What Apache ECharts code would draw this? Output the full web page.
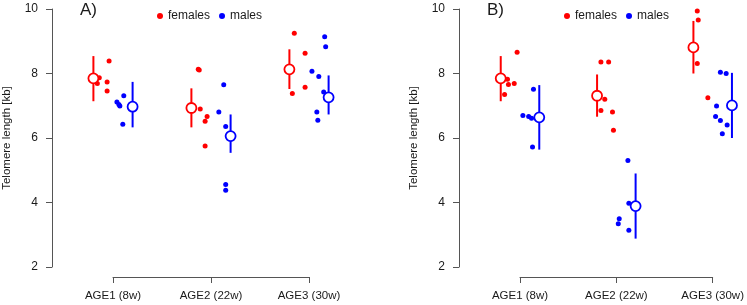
<!DOCTYPE html>
<html>
<head>
<meta charset="utf-8">
<script src="https://cdn.jsdelivr.net/npm/echarts@6/dist/echarts.min.js"></script>
<style>
  html, body { margin: 0; padding: 0; background: #fff; }
  #chart { width: 747px; height: 305px; }
</style>
</head>
<body>
<div id="chart"></div>
<script>
// 年龄分组与刻度
var ages = ['AGE1 (8w)', 'AGE2 (22w)', 'AGE3 (30w)'];
var yTicks = [2, 4, 6, 8, 10];

// 面板 A: 均值与误差范围
var aFemMean = [7.85, 6.93, 8.13];
var aFemLow  = [7.14, 6.33, 7.52];
var aFemHigh = [8.54, 7.54, 8.75];
var aMalMean = [6.97, 6.06, 7.26];
var aMalLow  = [6.33, 5.54, 6.73];
var aMalHigh = [7.74, 6.73, 7.94];
// 面板 A: 个体数据点 (值与水平抖动)
var aFemPts = [[8.39, 7.87, 7.69, 7.74, 7.46], [8.13, 8.11, 6.90, 6.67, 6.52, 5.75], [9.25, 8.63, 7.57, 7.38]];
var aFemJit = [[0.16, 0.06, 0.04, 0.14, 0.14], [0.07, 0.08, 0.09, 0.16, 0.14, 0.14], [0.05, 0.16, 0.16, 0.03]];
var aMalPts = [[7.12, 7.04, 6.99, 7.31, 6.43], [7.65, 6.81, 6.36, 4.56, 4.38], [9.14, 8.83, 8.07, 7.91, 7.43, 6.81, 6.55]];
var aMalJit = [[-0.16, -0.14, -0.13, -0.09, -0.10], [-0.07, -0.12, -0.05, -0.05, -0.05], [-0.04, -0.03, -0.17, -0.10, -0.05, -0.12, -0.11]];

// 面板 B
var bFemMean = [7.85, 7.31, 8.81];
var bFemLow  = [7.14, 6.66, 8.00];
var bFemHigh = [8.54, 7.97, 9.63];
var bMalMean = [6.64, 3.89, 7.01];
var bMalLow  = [5.64, 2.88, 6.00];
var bMalHigh = [7.64, 4.90, 8.02];
var bFemPts = [[8.66, 7.82, 7.66, 7.69, 7.35], [8.36, 8.36, 7.20, 6.85, 6.81, 6.24], [9.94, 9.66, 8.31, 7.25]];
var bFemJit = [[0.17, 0.07, 0.08, 0.14, 0.04], [0.04, 0.12, 0.08, 0.04, 0.16, 0.17], [0.04, 0.05, 0.04, 0.15]];
var bMalPts = [[7.51, 6.70, 6.67, 6.61, 5.72], [5.30, 3.98, 3.50, 3.34, 3.14], [8.04, 8.00, 6.99, 6.67, 6.54, 6.40, 6.13]];
var bMalJit = [[-0.06, -0.17, -0.11, -0.08, -0.07], [-0.08, -0.07, -0.17, -0.18, -0.07], [-0.12, -0.06, -0.16, -0.17, -0.12, -0.05, -0.10]];

var RED = '#ff0000', BLUE = '#0000ff';
var FONT = 'Liberation Sans, Arial, sans-serif';
var SHIFT = 0.2; // 雌雄分组左右偏移

var chart = echarts.init(document.getElementById('chart'));

function renderBar(params, api) {
    var x = api.value(0);
    var p1 = api.coord([x, api.value(1)]);
    var p2 = api.coord([x, api.value(2)]);
    return {
        type: 'line',
        shape: { x1: p1[0], y1: p1[1], x2: p2[0], y2: p2[1] },
        style: { stroke: api.visual('color'), lineWidth: 2 }
    };
}

function makeSeries(idx, sex, color, off, mean, low, high, pts, jit) {
    var bars = [], means = [], dots = [];
    for (var i = 0; i < mean.length; i++) {
        var cx = i + 1 + off;
        bars.push([cx, low[i], high[i]]);
        means.push([cx, mean[i]]);
        for (var j = 0; j < pts[i].length; j++) {
            dots.push([cx + jit[i][j], pts[i][j]]);
        }
    }
    return [{
        name: sex,
        type: 'scatter',
        xAxisIndex: idx, yAxisIndex: idx,
        data: dots,
        symbolSize: 5,
        clip: false,
        itemStyle: { color: color, opacity: 1 },
        z: 3
    }, {
        name: sex + ' ci',
        type: 'custom',
        xAxisIndex: idx, yAxisIndex: idx,
        data: bars,
        encode: { x: 0, y: [1, 2] },
        renderItem: renderBar,
        clip: false,
        itemStyle: { color: color },
        z: 4
    }, {
        name: sex + ' mean',
        type: 'scatter',
        xAxisIndex: idx, yAxisIndex: idx,
        data: means,
        symbolSize: 10,
        clip: false,
        itemStyle: { color: '#fff', borderColor: color, borderWidth: 1.8, opacity: 1 },
        z: 5
    }];
}

function xAxisOf(idx) {
    return {
        gridIndex: idx, type: 'value', min: 1, max: 3, interval: 1,
        offset: 10,
        axisLine: { show: true, lineStyle: { color: '#555', width: 1 } },
        axisTick: { show: true, length: 6, lineStyle: { color: '#555' } },
        axisLabel: {
            margin: 13, color: '#1a1a1a', fontSize: 11.5, fontFamily: FONT,
            formatter: function (v) { return ages[v - 1] || ''; }
        },
        splitLine: { show: false }
    };
}

function yAxisOf(idx) {
    return {
        gridIndex: idx, type: 'value', min: yTicks[0], max: yTicks[yTicks.length - 1], interval: 2,
        offset: 61,
        name: 'Telomere length [kb]',
        nameLocation: 'middle',
        nameGap: 39,
        nameTextStyle: { color: '#1a1a1a', fontSize: 11.5, fontFamily: FONT },
        axisLine: { show: true, lineStyle: { color: '#555', width: 1 } },
        axisTick: { show: true, length: 6, lineStyle: { color: '#555' } },
        axisLabel: { margin: 14, color: '#1a1a1a', fontSize: 12, fontFamily: FONT },
        splitLine: { show: false }
    };
}

function legendOf(left) {
    return {
        left: left, top: 5,
        data: ['females', 'males'],
        icon: 'circle',
        itemWidth: 6, itemHeight: 6,
        itemGap: 9,
        textStyle: { color: '#1a1a1a', fontSize: 12, fontFamily: FONT },
        selectedMode: false
    };
}

var series = []
    .concat(makeSeries(0, 'females', RED, -SHIFT, aFemMean, aFemLow, aFemHigh, aFemPts, aFemJit))
    .concat(makeSeries(0, 'males', BLUE, SHIFT, aMalMean, aMalLow, aMalHigh, aMalPts, aMalJit))
    .concat(makeSeries(1, 'females', RED, -SHIFT, bFemMean, bFemLow, bFemHigh, bFemPts, bFemJit))
    .concat(makeSeries(1, 'males', BLUE, SHIFT, bMalMean, bMalLow, bMalHigh, bMalPts, bMalJit));

var option = {
    animation: false,
    backgroundColor: '#fff',
    grid: [
        { left: 113, top: 9, width: 196, height: 258 },
        { left: 520, top: 9, width: 196, height: 258 }
    ],
    xAxis: [xAxisOf(0), xAxisOf(1)],
    yAxis: [yAxisOf(0), yAxisOf(1)],
    legend: [legendOf(152), legendOf(559)],
    graphic: [
        { type: 'text', left: 80, top: 2, style: { text: 'A)', fontSize: 17, fontFamily: FONT, fill: '#1a1a1a' } },
        { type: 'text', left: 487, top: 2, style: { text: 'B)', fontSize: 17, fontFamily: FONT, fill: '#1a1a1a' } }
    ],
    series: series
};
chart.setOption(option);
</script>
</body>
</html>
